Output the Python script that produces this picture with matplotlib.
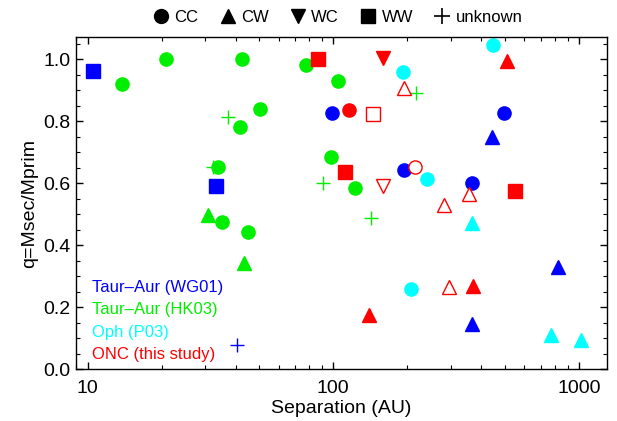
import matplotlib
matplotlib.use("Agg")
import matplotlib.pyplot as plt
from matplotlib.lines import Line2D
from matplotlib.ticker import FixedLocator, FuncFormatter, MultipleLocator
import numpy as np

plt.rcParams['font.family'] = ['Liberation Sans', 'DejaVu Sans']

# ---------------- data ----------------
wg01_sep = [10.5, 33.3, 98.5, 194.5, 365.6, 496, 443, 819, 368, 40.4]
wg01_q = [0.963, 0.591, 0.827, 0.643, 0.600, 0.826, 0.750, 0.331, 0.146, 0.078]
wg01_type = ['WW', 'WW', 'CC', 'CC', 'CC', 'CC', 'CW', 'CW', 'CW', 'unknown']

hk03_sep = [13.8, 20.9, 42.5, 50.3, 41.7, 37.4, 34.0, 32.3, 77.4, 104.8,
            90.6, 97.9, 122.5, 142.2, 218, 31.0, 35.3, 45.1, 43.3]
hk03_q = [0.921, 1.0, 1.0, 0.840, 0.783, 0.813, 0.654, 0.654, 0.981, 0.930,
          0.601, 0.685, 0.585, 0.487, 0.890, 0.498, 0.474, 0.443, 0.342]
hk03_type = ['CC', 'CC', 'CC', 'CC', 'CC', 'unknown', 'CC', 'unknown', 'CC', 'CC',
             'unknown', 'CC', 'CC', 'unknown', 'unknown', 'CW', 'CC', 'CC', 'CW']

p03_sep = [446.7, 191.5, 240, 368, 207.5, 767, 1018]
p03_q = [1.045, 0.958, 0.613, 0.471, 0.259, 0.111, 0.095]
p03_type = ['CC', 'CC', 'CC', 'CW', 'CC', 'CW', 'CW']

onc_sep = [86.4, 159, 510, 115.8, 144.5, 194.5, 111.7, 158.9, 215.7,
           282, 356.5, 549, 295, 371.5, 140]
onc_q = [1.002, 1.003, 0.995, 0.835, 0.825, 0.908, 0.636, 0.592, 0.653,
         0.529, 0.565, 0.575, 0.265, 0.269, 0.175]
onc_type = ['WW', 'WC', 'CW', 'CC', 'WW', 'CW', 'WW', 'WC', 'CC',
            'CW', 'CW', 'WW', 'CW', 'CW', 'CW']
onc_filled = [True, True, True, True, False, False, True, False, False,
              False, False, True, False, True, True]

type_names = ['CC', 'CW', 'WC', 'WW', 'unknown']
survey_labels = ['Taur\u2013Aur (WG01)', 'Taur\u2013Aur (HK03)', 'Oph (P03)', 'ONC (this study)']
survey_colors = ['#0000ff', '#00ee00', '#00ffff', '#ff0000']

y_ticks = [0.0, 0.2, 0.4, 0.6, 0.8, 1.0]
x_ticks = [10, 100, 1000]

markers = {'CC': 'o', 'CW': '^', 'WC': 'v', 'WW': 's', 'unknown': '+'}

# ---------------- figure ----------------
fig = plt.figure(figsize=(6.17, 4.21), dpi=100)
ax = fig.add_axes([76 / 617, 1 - 369.3 / 421, (607 - 76) / 617, (369.3 - 37.3) / 421])

def draw(seps, qs, types, color, filled=None):
    for i, (s, q, t) in enumerate(zip(seps, qs, types)):
        m = markers[t]
        f = True if filled is None else filled[i]
        if m == '+':
            ax.plot([s], [q], linestyle='none', marker='+', ms=9.5, mew=1.0, color=color)
        else:
            ax.plot([s], [q], linestyle='none', marker=m, ms=9.5,
                    mfc=color if f else 'white', mec=color, mew=1.0)

draw(wg01_sep, wg01_q, wg01_type, survey_colors[0])
draw(hk03_sep, hk03_q, hk03_type, survey_colors[1])
draw(p03_sep, p03_q, p03_type, survey_colors[2])
draw(onc_sep, onc_q, onc_type, survey_colors[3], onc_filled)

ax.set_xscale('log')
ax.set_xlim(8.97, 1300)
ax.set_ylim(0.0, 1.071)

ax.xaxis.set_major_locator(FixedLocator(x_ticks))
ax.xaxis.set_major_formatter(FuncFormatter(lambda v, p: '%d' % v))
ax.yaxis.set_major_locator(FixedLocator(y_ticks))
ax.yaxis.set_major_formatter(FuncFormatter(lambda v, p: '%.1f' % v))
ax.yaxis.set_minor_locator(MultipleLocator(0.05))

ax.tick_params(which='both', direction='in', top=True, right=True, labelsize=14)
ax.tick_params(which='major', length=5, width=1.0)
ax.tick_params(which='minor', length=3, width=0.8)
ax.tick_params(axis='x', which='major', pad=8)
ax.tick_params(axis='y', which='major', pad=4)
for sp in ax.spines.values():
    sp.set_linewidth(1.0)

ax.set_xlabel('Separation (AU)', fontsize=14, labelpad=2)
ax.set_ylabel('q=Msec/Mprim', fontsize=14, labelpad=4)

# survey labels (bottom-left)
ys = [0.245, 0.179, 0.110, 0.046]
for lab, col, yy in zip(survey_labels, survey_colors, ys):
    ax.text(0.030, yy, lab, color=col, fontsize=12, transform=ax.transAxes,
            ha='left', va='center')

# top marker-type legend
handles = [Line2D([], [], linestyle='none', marker=markers[t], color='black',
                  ms=10 if t != 'unknown' else 12, mew=1.2 if t == 'unknown' else 1.0)
           for t in type_names]
fig.legend(handles, type_names, loc='center', bbox_to_anchor=(0.548, 0.958), ncol=5,
           frameon=False, fontsize=12, handlelength=0.9, handletextpad=0.35,
           columnspacing=1.3)

fig.savefig('out.png', dpi=100)
